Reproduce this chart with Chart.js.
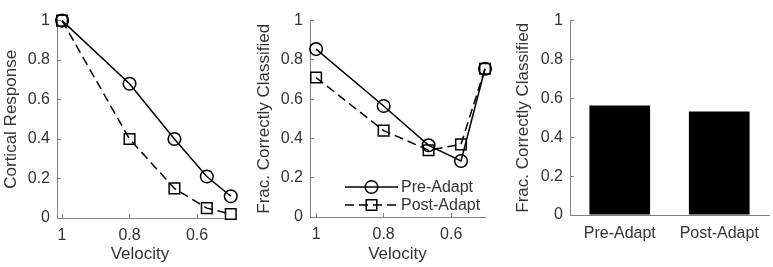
<!DOCTYPE html>
<html>
<head>
<meta charset="utf-8">
<script src="https://cdn.jsdelivr.net/npm/chart.js@4.4.0/dist/chart.umd.min.js"></script>
<style>
  body { margin: 0; background: #fff; }
  #wrap { position: relative; width: 773px; height: 267px; }
  canvas { position: absolute; top: 0; }
</style>
</head>
<body>
<div id="wrap">
  <canvas id="c1" width="250" height="267" style="left:0px"></canvas>
  <canvas id="c2" width="260" height="267" style="left:250px"></canvas>
  <canvas id="c3" width="263" height="267" style="left:510px"></canvas>
</div>
<script>
// data
var velocity = [1, 0.8, 0.667, 0.571, 0.5];
var cortPre = [1, 0.68, 0.40, 0.21, 0.11];
var cortPost = [1, 0.40, 0.15, 0.05, 0.02];
var fracPre = [0.855, 0.565, 0.365, 0.285, 0.755];
var fracPost = [0.71, 0.44, 0.34, 0.37, 0.755];
var barLabels = ['Pre-Adapt', 'Post-Adapt'];
var barValues = [0.563, 0.533];
var seriesNames = ['Pre-Adapt', 'Post-Adapt'];
var velTicks = [1, 0.8, 0.6];

var axisCol = '#808080';
var txtCol = '#333333';
Chart.defaults.font.family = '"Liberation Sans", Arial, sans-serif';
Chart.defaults.color = txtCol;

// matlab style tick text: 1, 0.8, 0
function fmt(v) { return String(Number(Number(v).toFixed(2))); }

function pts(ys) {
  return velocity.map(function (v, i) { return {x: v, y: ys[i]}; });
}

function lineSet(name, ys, dashed) {
  return {
    label: name,
    data: pts(ys),
    borderColor: '#000',
    borderWidth: 1.5,
    borderDash: dashed ? [9, 5] : [],
    pointStyle: dashed ? 'rect' : 'circle',
    pointRadius: dashed ? 7.5 : 6.3,
    pointBorderWidth: 1.5,
    pointBorderColor: '#000',
    pointBackgroundColor: 'rgba(0,0,0,0)',
    tension: 0,
    clip: false
  };
}

function yAxis(title, width, titlePad) {
  return {
    min: 0, max: 1,
    ticks: { stepSize: 0.2, padding: 11, font: { size: 16 }, color: txtCol, callback: fmt },
    grid: { drawOnChartArea: false, tickLength: -4, color: axisCol },
    border: { color: axisCol },
    title: { display: !!title, text: title, font: { size: 17 }, color: txtCol, padding: { top: titlePad, bottom: 0 } },
    afterFit: function (s) { s.width = width; }
  };
}

function xVel(min, max, height) {
  return {
    type: 'linear', reverse: true, min: min, max: max,
    afterBuildTicks: function (s) { s.ticks = velTicks.map(function (v) { return {value: v}; }); },
    ticks: { padding: 12, font: { size: 16 }, color: txtCol, maxRotation: 0, callback: fmt },
    grid: { drawOnChartArea: false, tickLength: -4, color: axisCol },
    border: { color: axisCol },
    title: { display: true, text: 'Velocity', font: { size: 17 }, color: txtCol, padding: { top: 0, bottom: 2 } },
    afterFit: function (s) { s.height = height; }
  };
}

// legend drawn inside the plot area of the middle panel
var insideLegend = {
  id: 'insideLegend',
  afterDraw: function (chart, args, o) {
    if (!o || !o.show) return;
    var ctx = chart.ctx;
    ctx.save();
    chart.data.datasets.forEach(function (ds, i) {
      var y = o.y + i * o.gap;
      ctx.strokeStyle = ds.borderColor;
      ctx.lineWidth = ds.borderWidth;
      ctx.setLineDash(ds.borderDash);
      ctx.beginPath();
      ctx.moveTo(o.x, y);
      ctx.lineTo(o.x + o.len, y);
      ctx.stroke();
      ctx.setLineDash([]);
      ctx.fillStyle = 'rgba(0,0,0,0)';
      ctx.lineWidth = ds.pointBorderWidth;
      Chart.helpers.drawPoint(ctx, {pointStyle: ds.pointStyle, radius: ds.pointRadius, borderWidth: ds.pointBorderWidth, rotation: 0}, o.x + o.len / 2, y);
      ctx.fillStyle = txtCol;
      ctx.font = '16px "Liberation Sans", Arial, sans-serif';
      ctx.textBaseline = 'middle';
      ctx.textAlign = 'left';
      ctx.fillText(ds.label, o.x + o.len + 3, y + 1);
    });
    ctx.restore();
  }
};

new Chart(document.getElementById('c1'), {
  type: 'line',
  data: { datasets: [lineSet(seriesNames[0], cortPre, false), lineSet(seriesNames[1], cortPost, true)] },
  options: {
    responsive: false, animation: false,
    layout: { padding: { top: 12, right: 27, left: 0, bottom: 0 } },
    plugins: { legend: { display: false }, tooltip: { enabled: false } },
    scales: { x: xVel(0.523, 1.015, 49), y: yAxis('Cortical Response', 57, 1) }
  }
});

new Chart(document.getElementById('c2'), {
  type: 'line',
  data: { datasets: [lineSet(seriesNames[0], fracPre, false), lineSet(seriesNames[1], fracPost, true)] },
  options: {
    responsive: false, animation: false,
    layout: { padding: { top: 12, right: 25, left: 0, bottom: 0 } },
    plugins: { legend: { display: false }, tooltip: { enabled: false },
      insideLegend: { show: true, x: 95, len: 53, y: 187, gap: 18 } },
    scales: { x: xVel(0.5, 1.018, 50), y: yAxis('Frac. Correctly Classified', 60, 4) }
  },
  plugins: [insideLegend]
});

new Chart(document.getElementById('c3'), {
  type: 'bar',
  data: {
    labels: barLabels,
    datasets: [{ data: barValues, backgroundColor: '#000', borderWidth: 0, barPercentage: 0.61, categoryPercentage: 1 }]
  },
  options: {
    responsive: false, animation: false,
    layout: { padding: { top: 12, right: 4, left: 0, bottom: 0 } },
    plugins: { legend: { display: false }, tooltip: { enabled: false } },
    scales: {
      x: {
        ticks: { padding: 1, font: { size: 16 }, color: txtCol },
        grid: { display: false },
        border: { color: axisCol },
        afterFit: function (s) { s.height = 52; }
      },
      y: yAxis('Frac. Correctly Classified', 60, 3)
    }
  }
});
</script>
</body>
</html>
